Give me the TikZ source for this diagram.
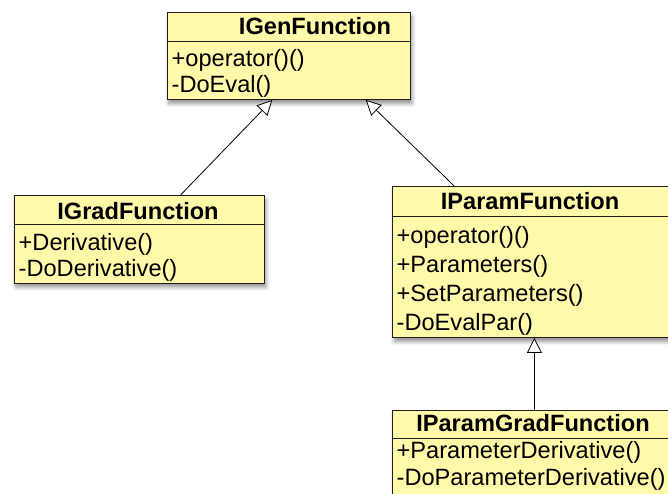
\documentclass[tikz,border=0pt]{standalone}
\usepackage{fontspec}
\setmainfont{Liberation Sans}
\usetikzlibrary{arrows.meta,shadows.blur,calc}
\definecolor{classfill}{RGB}{255,250,170}
\definecolor{classline}{RGB}{30,30,30}
\tikzset{
  classbox/.style={draw=classline, line width=0.9pt, fill=classfill, rectangle,
    inner sep=0pt, anchor=north west,
    blur shadow={shadow xshift=2pt, shadow yshift=-4pt, shadow blur steps=6, shadow blur radius=4pt, shadow opacity=45}},
  divider/.style={draw=classline, line width=0.9pt},
  classtitle/.style={inner sep=0pt, anchor=base, font=\fontsize{23.6}{26}\selectfont\bfseries},
  member/.style={inner sep=0pt, anchor=base west, font=\fontsize{23.6}{26}\selectfont},
  inherit/.style={draw=black, line width=0.8pt,
    -{Triangle[open, length=15pt, width=15pt, fill=white]}}
}
\begin{document}
\begin{tikzpicture}[x=1pt, y=-1pt]
  \useasboundingbox (0,0) rectangle (668,494);

  % IGenFunction
  \node[classbox, minimum width=243pt, minimum height=86.5pt] (gen) at (166.5,12.5) {};
  \draw[divider] (166.5,41.5) -- (409.5,41.5);
  \node[classtitle] (genT) at (315,34.5) {IGenFunction};
  \node[member] (gen1) at (171.5,67) {+operator()()};
  \node[member] (gen2) at (171.5,93) {-DoEval()};

  % IGradFunction
  \node[classbox, minimum width=250pt, minimum height=87.5pt] (grad) at (13.5,195) {};
  \draw[divider] (13.5,224) -- (263.5,224);
  \node[classtitle] (gradT) at (138,219.5) {IGradFunction};
  \node[member] (grad1) at (18.5,250.5) {+Derivative()};
  \node[member] (grad2) at (18.5,276) {-DoDerivative()};

  % IParamFunction
  \node[classbox, minimum width=275.5pt, minimum height=151pt] (param) at (392,186) {};
  \draw[divider] (392,216) -- (667.5,216);
  \node[classtitle] (paramT) at (530,210) {IParamFunction};
  \node[member] (param1) at (396.5,243.5) {+operator()()};
  \node[member] (param2) at (396.5,272.5) {+Parameters()};
  \node[member] (param3) at (396.5,301.5) {+SetParameters()};
  \node[member] (param4) at (396.5,330.5) {-DoEvalPar()};

  % IParamGradFunction
  \node[classbox, minimum width=282pt, minimum height=110pt] (pgrad) at (392,409.5) {};
  \draw[divider] (392,438.5) -- (674,438.5);
  \node[classtitle] (pgradT) at (533,431.5) {IParamGradFunction};
  \node[member] (pgrad1) at (396.5,458.5) {+ParameterDerivative()};
  \node[member] (pgrad2) at (396.5,485.5) {-DoParameterDerivative()};

  % generalisation connectors
  \draw[inherit] ($(grad.north west)!0.666!(grad.north east)$) -- ($(gen.south west)!0.434!(gen.south east)$);
  \draw[inherit] ($(param.north west)!0.225!(param.north east)$) -- ($(gen.south west)!0.817!(gen.south east)$);
  \draw[inherit] ($(pgrad.north west)!0.504!(pgrad.north east)$) -- ($(param.south west)!0.515!(param.south east)$);
\end{tikzpicture}
\end{document}
